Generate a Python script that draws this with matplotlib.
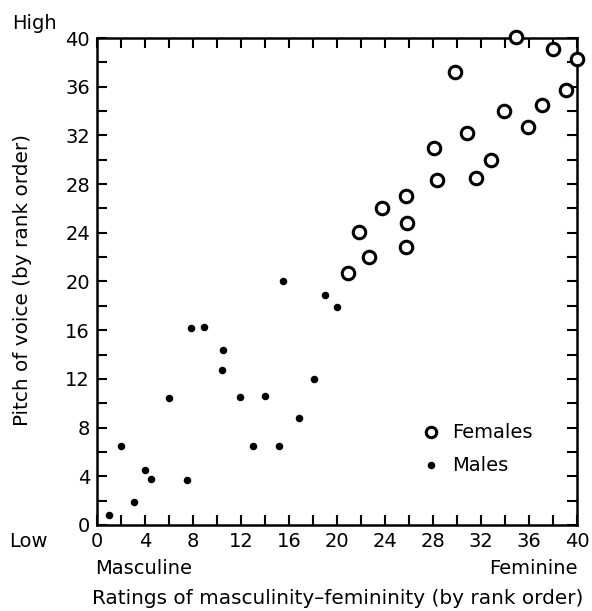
import matplotlib
matplotlib.use('Agg')
import matplotlib.pyplot as plt
from matplotlib.ticker import MultipleLocator

plt.rcParams['font.family'] = ['DejaVu Sans']

# Males: masculinity-femininity rank vs pitch rank
male_x = [1.0, 2.0, 3.1, 4.0, 4.5, 6.0, 7.5, 7.8, 8.9, 10.5, 10.4, 11.9,
          13.0, 14.0, 15.2, 15.5, 16.8, 18.1, 19.0, 20.0]
male_y = [0.8, 6.5, 1.9, 4.5, 3.75, 10.4, 3.7, 16.2, 16.3, 14.4, 12.7, 10.5,
          6.5, 10.6, 6.5, 20.0, 8.8, 12.0, 18.9, 17.9]

# Females
female_x = [34.9, 38.0, 40.0, 29.8, 39.1, 37.1, 33.9, 35.9, 30.8, 28.1,
            32.8, 31.6, 28.3, 25.75, 23.75, 21.8, 25.8, 22.7, 25.75, 20.9]
female_y = [40.1, 39.1, 38.3, 37.2, 35.7, 34.5, 34.0, 32.7, 32.2, 31.0,
            30.0, 28.5, 28.3, 27.0, 26.0, 24.1, 24.8, 22.0, 22.8, 20.7]

ticks = [0, 4, 8, 12, 16, 20, 24, 28, 32, 36, 40]
fs = 14

fig = plt.figure(figsize=(5.92, 6.11), dpi=100)
ax = fig.add_axes([0.1639, 0.1408, 0.9747 - 0.1639, 0.9378 - 0.1408])

ax.plot(female_x, female_y, 'o', ms=9, mfc='white', mec='black', mew=2.2,
        clip_on=False, zorder=3)
ax.plot(male_x, male_y, 'o', ms=4.4, color='black', clip_on=False, zorder=3)

ax.set_xlim(0, 40)
ax.set_ylim(0, 40)
ax.set_xticks(ticks)
ax.set_yticks(ticks)
ax.xaxis.set_minor_locator(MultipleLocator(2))
ax.yaxis.set_minor_locator(MultipleLocator(2))
ax.tick_params(which='both', direction='in', top=True, right=True,
               length=7, width=1.5, labelsize=fs, pad=5)
for s in ax.spines.values():
    s.set_linewidth(1.8)

# legend drawn by hand
ax.plot([27.8], [7.6], 'o', ms=7.5, mfc='white', mec='black', mew=2.2)
ax.plot([27.8], [4.9], 'o', ms=4.4, color='black')
ax.text(29.6, 7.6, 'Females', fontsize=fs, va='center')
ax.text(29.6, 4.9, 'Males', fontsize=fs, va='center')

fig.text(0.020, 0.962, 'High', fontsize=fs, va='center')
fig.text(0.015, 0.114, 'Low', fontsize=fs, va='center')
fig.text(0.160, 0.070, 'Masculine', fontsize=fs, va='center')
fig.text(0.975, 0.070, 'Feminine', fontsize=fs, va='center', ha='right')
fig.text(0.985, 0.021, 'Ratings of masculinity\u2013femininity (by rank order)',
         fontsize=14.4, va='center', ha='right')
fig.text(0.038, 0.542, 'Pitch of voice (by rank order)', fontsize=14.4,
         va='center', ha='center', rotation=90)

plt.savefig('out.png', dpi=100)
